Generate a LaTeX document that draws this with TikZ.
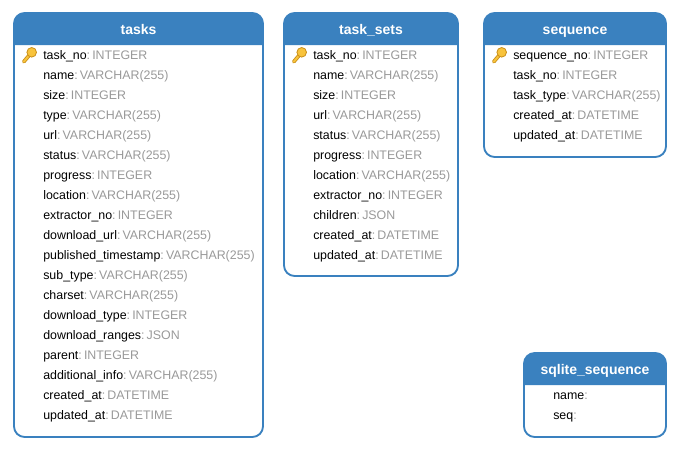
\documentclass[tikz,border=0pt]{standalone}
\usepackage{fontspec}
\setmainfont{Liberation Sans}
\definecolor{headblue}{HTML}{3A81BF}
\definecolor{typegrey}{HTML}{999999}
\definecolor{keygold}{HTML}{F8C33C}
\definecolor{keyedge}{HTML}{C98F1A}
\tikzset{
  rowtext/.style={anchor=base west,inner sep=0pt,font=\fontsize{9.3}{11}\selectfont},
  headtext/.style={anchor=base,text=white,inner sep=0pt,font=\fontsize{10.5}{12}\bfseries\selectfont},
  tablebox/.style={draw=headblue,line width=1.4pt,rounded corners=8pt},
}
\newcommand{\ty}[1]{\textcolor{typegrey}{:\hspace{1.6pt}#1}}
\newcommand{\tablehead}[6]{%
  \draw[tablebox] (#2,#3) rectangle (#4,#5);
  \fill[headblue] (#2,#3+32) [rounded corners=8pt] -- (#2,#3) -- (#4,#3) [sharp corners] -- (#4,#3+32) -- cycle;
  \node[headtext] (#1) at ({(#2+#4)/2},#3+21.5) {#6};
}
\newcommand{\keyicon}[2]{%
  \draw[keyedge,line width=2.8pt,line cap=round] (#1+9.7,#2-2.7) -- (#1+1.8,#2+6.7);
  \draw[keygold,line width=1.5pt,line cap=round] (#1+9.7,#2-2.7) -- (#1+1.8,#2+6.7);
  \draw[keyedge,fill=keygold,line width=0.6pt] (#1+9.7,#2-2.7) circle (4.8);
}
\begin{document}
\begin{tikzpicture}[x=0.75pt,y=-0.75pt]
  \useasboundingbox (0,0) rectangle (680,451);
  \tablehead{tasks}{14}{13}{263}{437}{tasks}
  \tablehead{tasksets}{284}{13}{458}{276}{task\_sets}
  \tablehead{sequence}{484}{13}{666}{157}{sequence}
  \tablehead{sqlite}{524}{353}{666}{437}{sqlite\_sequence}
  % tasks
  \foreach \m/\t [count=\n from 0] in {task\_no/INTEGER,name/VARCHAR(255),size/INTEGER,type/VARCHAR(255),url/VARCHAR(255),status/VARCHAR(255),progress/INTEGER,location/VARCHAR(255),extractor\_no/INTEGER,download\_url/VARCHAR(255),published\_timestamp/VARCHAR(255),sub\_type/VARCHAR(255),charset/VARCHAR(255),download\_type/INTEGER,download\_ranges/JSON,parent/INTEGER,additional\_info/VARCHAR(255),created\_at/DATETIME,updated\_at/DATETIME}
  {
    \node[rowtext] (tasks\n) at (43,{59+20*\n}) {\m\ty{\t}};
  }
  % task_sets
  \foreach \m/\t [count=\n from 0] in {task\_no/INTEGER,name/VARCHAR(255),size/INTEGER,url/VARCHAR(255),status/VARCHAR(255),progress/INTEGER,location/VARCHAR(255),extractor\_no/INTEGER,children/JSON,created\_at/DATETIME,updated\_at/DATETIME}
  {
    \node[rowtext] (sets\n) at (313,{59+20*\n}) {\m\ty{\t}};
  }
  % sequence
  \foreach \m/\t [count=\n from 0] in {sequence\_no/INTEGER,task\_no/INTEGER,task\_type/VARCHAR(255),created\_at/DATETIME,updated\_at/DATETIME}
  {
    \node[rowtext] (seq\n) at (513,{59+20*\n}) {\m\ty{\t}};
  }
  % sqlite_sequence
  \node[rowtext] (sqlite0) at (553,399) {name\ty{}};
  \node[rowtext] (sqlite1) at (553,419) {seq\ty{}};
  \keyicon{22}{55}
  \keyicon{292}{55}
  \keyicon{492}{55}
\end{tikzpicture}
\end{document}
